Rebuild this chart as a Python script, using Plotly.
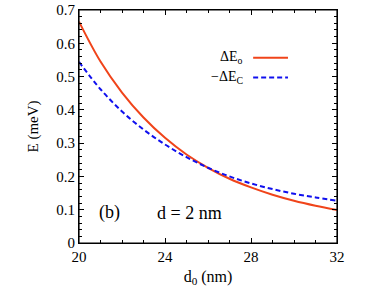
import plotly.graph_objects as go

d0 = [20, 21, 22, 23, 24, 25, 26, 27, 28, 29, 30, 31, 32]
dEo = [0.665, 0.545, 0.452, 0.377, 0.316, 0.266, 0.226, 0.193, 0.167, 0.145, 0.127, 0.112, 0.099]
dEc = [0.544, 0.462, 0.395, 0.341, 0.296, 0.258, 0.226, 0.200, 0.179, 0.162, 0.148, 0.137, 0.127]

x_ticks = [20, 24, 28, 32]
y_ticks = [0, 0.1, 0.2, 0.3, 0.4, 0.5, 0.6, 0.7]

FONT = "Liberation Serif"
ORANGE = "#f0441a"
BLUE = "#1010ee"

fig = go.Figure()
fig.add_trace(go.Scatter(x=d0, y=dEo, mode="lines", line=dict(color=ORANGE, width=2, shape="spline"),
                         showlegend=False))
fig.add_trace(go.Scatter(x=d0, y=dEc, mode="lines",
                         line=dict(color=BLUE, width=2, dash="5px,3px", shape="spline"),
                         showlegend=False))
# invisible copy on the mirror axes so the top/right ticks are drawn
fig.add_trace(go.Scatter(x=d0, y=dEo, mode="lines", line=dict(width=0), opacity=0,
                         xaxis="x2", yaxis="y2", showlegend=False, hoverinfo="skip"))

axis_common = dict(showline=True, linecolor="black", linewidth=1, automargin=False,
                   ticks="inside", ticklen=5, tickcolor="black", showgrid=False, zeroline=False,
                   tickfont=dict(family=FONT, size=15, color="black"))

xminor = dict(dtick=1, ticks="inside", ticklen=3, tickcolor="black", showgrid=False)
yminor = dict(dtick=0.02, ticks="inside", ticklen=3, tickcolor="black", showgrid=False)

fig.update_layout(
    xaxis=dict(range=[20, 32], tickvals=x_ticks, minor=xminor,
               title=dict(text="d<sub>0</sub> (nm)", font=dict(family=FONT, size=16, color="black"), standoff=6),
               **axis_common),
    yaxis=dict(range=[0, 0.7], tickvals=y_ticks, minor=yminor,
               title=dict(text="E (meV)", font=dict(family=FONT, size=15, color="black"), standoff=14),
               **axis_common),
    xaxis2=dict(range=[20, 32], tickvals=x_ticks, minor=xminor, overlaying="x", side="top",
                showticklabels=False, anchor="y2", **axis_common),
    yaxis2=dict(range=[0, 0.7], tickvals=y_ticks, minor=yminor, overlaying="y", side="right",
                showticklabels=False, anchor="x2", **axis_common),
)

# plot frame
fig.add_shape(type="rect", xref="paper", yref="paper", x0=0, x1=1, y0=0, y1=1,
              line=dict(color="black", width=1.2), layer="above")

legend_items = [("ΔE<sub>o</sub>", ORANGE, "solid", 0.795), ("−ΔE<sub>C</sub>", BLUE, "5px,3px", 0.71)]
for label, col, dash, yp in legend_items:
    fig.add_annotation(x=0.645, y=yp, xref="paper", yref="paper", text=label, showarrow=False,
                       xanchor="right", yanchor="middle", font=dict(family=FONT, size=14, color="black"))
    fig.add_shape(type="line", xref="paper", yref="paper", x0=0.675, x1=0.81, y0=yp, y1=yp,
                  line=dict(color=col, width=2, dash=dash))

fig.add_annotation(x=0.07, y=0.13, xref="paper", yref="paper", text="(b)", showarrow=False,
                   xanchor="left", yanchor="middle", font=dict(family=FONT, size=18, color="black"))
fig.add_annotation(x=0.295, y=0.13, xref="paper", yref="paper", text="d = 2 nm", showarrow=False,
                   xanchor="left", yanchor="middle", font=dict(family=FONT, size=18, color="black"))

fig.update_layout(width=382, height=297, margin=dict(l=79, r=45, t=10, b=54, autoexpand=False),
                  paper_bgcolor="white", plot_bgcolor="white", showlegend=False)

fig.write_html("out.html", config={"displayModeBar": False},
               post_script="document.body.style.margin='0';")
